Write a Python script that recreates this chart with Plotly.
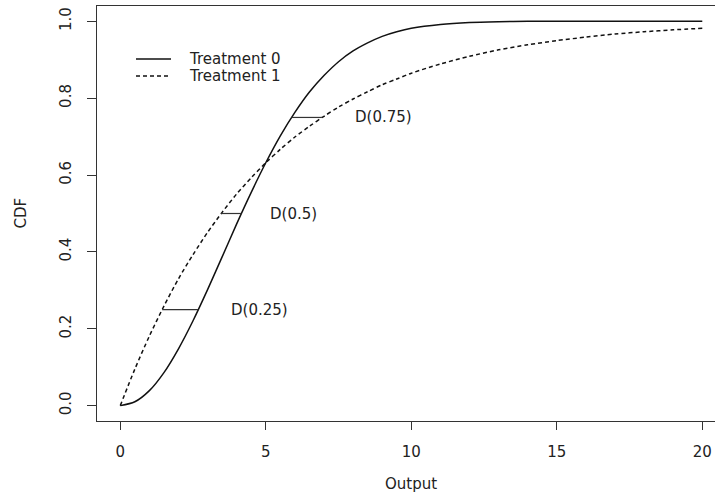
import plotly.graph_objects as go

# Values
output_x = [0, 0.5, 1, 1.5, 2, 2.5, 3, 3.5, 4, 4.5, 5, 5.5, 6, 6.5, 7, 7.5, 8, 8.5,
            9, 9.5, 10, 11, 12, 13, 14, 15, 16, 17, 18, 19, 20]
cdf_treatment0 = [0, 0.010, 0.039, 0.086, 0.148, 0.221, 0.302, 0.387, 0.473, 0.555,
                  0.632, 0.702, 0.763, 0.816, 0.859, 0.895, 0.923, 0.944, 0.961, 0.973,
                  0.982, 0.992, 0.997, 0.999, 1.0, 1.0, 1.0, 1.0, 1.0, 1.0, 1.0]
cdf_treatment1 = [0, 0.095, 0.181, 0.259, 0.330, 0.393, 0.451, 0.503, 0.551, 0.593,
                  0.632, 0.667, 0.699, 0.727, 0.753, 0.777, 0.798, 0.817, 0.835, 0.850,
                  0.865, 0.889, 0.909, 0.926, 0.939, 0.950, 0.959, 0.967, 0.973, 0.978,
                  0.982]

series_names = ["Treatment 0", "Treatment 1"]

q_levels = [0.25, 0.5, 0.75]
q_treatment1 = [1.44, 3.47, 6.93]
q_treatment0 = [2.68, 4.16, 5.89]
label_x = [4.8, 5.95, 9.05]
labels = ["D(0.25)", "D(0.5)", "D(0.75)"]

x_ticks = [0, 5, 10, 15, 20]
y_ticks = [0.0, 0.2, 0.4, 0.6, 0.8, 1.0]

FONT = "DejaVu Sans"
TXT = "#222222"
AX = "#333333"
LINE = "#111111"
DASH = "4px,3px"

W, H = 715, 497
ML, MT, MB, MR = 97, 6, 76, 0
PW, PH = W - ML - MR, H - MT - MB
px_per_unit = 29.1
x_lo = -0.8
x_hi = x_lo + PW / px_per_unit


def px_to_paper_x(px):
    return (px - ML) / PW


def px_to_paper_y(py):
    return (H - MB - py) / PH


fig = go.Figure()
fig.add_trace(go.Scatter(x=output_x, y=cdf_treatment0, mode="lines", name=series_names[0],
                         line=dict(color=LINE, width=1.5, shape="spline", smoothing=0.8),
                         showlegend=False))
fig.add_trace(go.Scatter(x=output_x, y=cdf_treatment1, mode="lines", name=series_names[1],
                         line=dict(color=LINE, width=1.5, dash=DASH, shape="spline",
                                   smoothing=0.8),
                         showlegend=False))

for q, a, b, lab, lx in zip(q_levels, q_treatment1, q_treatment0, labels, label_x):
    fig.add_trace(go.Scatter(x=[a, b], y=[q, q], mode="lines", showlegend=False,
                             line=dict(color="#333333", width=1.2), hoverinfo="skip"))
    fig.add_annotation(x=lx, y=q, text=lab, showarrow=False, xref="x", yref="y",
                       font=dict(family=FONT, size=15, color=TXT))

# legend (drawn in the R style: no box, line samples then labels)
legend_rows_px = [59, 76]
for name, row, dash in zip(series_names, legend_rows_px, [None, DASH]):
    fig.add_shape(type="line", xref="paper", yref="paper",
                  x0=px_to_paper_x(136), x1=px_to_paper_x(171),
                  y0=px_to_paper_y(row), y1=px_to_paper_y(row),
                  line=dict(color=LINE, width=1.3, dash=dash))
    fig.add_annotation(x=px_to_paper_x(187), y=px_to_paper_y(row), xref="paper", yref="paper",
                       xanchor="left", yanchor="middle", text=name, showarrow=False,
                       font=dict(family=FONT, size=15, color=TXT))

# axis titles
fig.add_annotation(x=10, y=-0.04, xref="x", yref="y", yshift=-63, text="Output",
                   showarrow=False, font=dict(family=FONT, size=15, color=TXT))
fig.add_annotation(x=0, y=0.5, xref="paper", yref="y", xshift=-77, xanchor="center",
                   text="CDF", textangle=-90, showarrow=False,
                   font=dict(family=FONT, size=15, color=TXT))

fig.update_layout(
    width=W, height=H,
    margin=dict(l=ML, r=MR, t=MT, b=MB),
    paper_bgcolor="white", plot_bgcolor="white",
    font=dict(family=FONT, size=15, color=TXT),
    showlegend=False,
    xaxis=dict(range=[x_lo, x_hi], tickmode="array", tickvals=x_ticks,
               ticks="outside", ticklen=8, tickcolor=AX, showgrid=False, zeroline=False,
               showline=True, linecolor=AX, linewidth=1, mirror=True,
               ticklabelstandoff=9,
               tickfont=dict(family=FONT, size=15, color=TXT)),
    yaxis=dict(range=[-0.04, 1.04], tickmode="array", tickvals=y_ticks, tickformat=".1f",
               ticks="outside", ticklen=9, tickcolor=AX, showgrid=False, zeroline=False,
               showline=True, linecolor=AX, linewidth=1, tickangle=-90,
               ticklabelstandoff=10,
               tickfont=dict(family=FONT, size=15, color=TXT)),
)

fig.write_html("out.html")
